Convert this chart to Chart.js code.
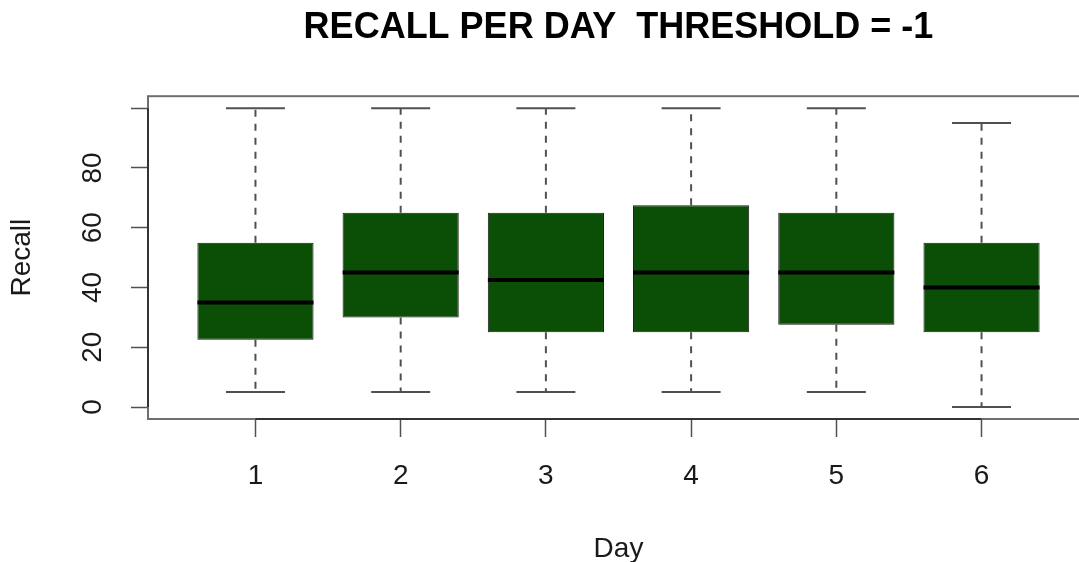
<!DOCTYPE html>
<html>
<head>
<meta charset="utf-8">
<title>Recall per day</title>
<script src="https://cdn.jsdelivr.net/npm/chart.js@4.4.1/dist/chart.umd.min.js"></script>
<style>
    html, body { margin: 0; padding: 0; background: #fff; overflow: hidden; }
    #wrap { width: 1089px; height: 562px; position: relative; }
</style>
</head>
<body>
<div id="wrap"><canvas id="recallBoxplot"></canvas></div>
<script>
// values
const days = [1, 2, 3, 4, 5, 6];
const whiskerLow = [5, 5, 5, 5, 5, 0];
const q1 = [22.5, 30, 25, 25, 27.5, 25];
const medians = [35, 45, 42.5, 45, 45, 40];
const q3 = [55, 65, 65, 67.5, 65, 55];
const whiskerHigh = [100, 100, 100, 100, 100, 95];
const yTicks = [0, 20, 40, 60, 80, 100];

const boxGreen = '#0b4e05';
const lineGrey = '#505050';
const fontFamily = '"Liberation Sans", Arial, Helvetica, sans-serif';

// dashed whiskers: one segment per box end, broken with null points
const whiskerPoints = [];
days.forEach((d, i) => {
    whiskerPoints.push({ x: d, y: q3[i] }, { x: d, y: whiskerHigh[i] }, { x: d, y: null });
    whiskerPoints.push({ x: d, y: q1[i] }, { x: d, y: whiskerLow[i] }, { x: d, y: null });
});

const capPoints = [];
days.forEach((d, i) => {
    capPoints.push({ x: d, y: whiskerLow[i] }, { x: d, y: whiskerHigh[i] });
});

// frame round the plot, plus the axis lines over the tick range (like R)
const framePlugin = {
    id: 'frame',
    afterDraw(chart) {
        const { ctx, chartArea: a, scales } = chart;
        ctx.save();
        ctx.strokeStyle = '#6e6e6e';
        ctx.lineWidth = 2;
        ctx.strokeRect(a.left, a.top, a.right - a.left, a.bottom - a.top);
        ctx.strokeStyle = '#333';
        ctx.lineWidth = 2;
        ctx.beginPath();
        ctx.moveTo(scales.x.getPixelForValue(days[0]), a.bottom);
        ctx.lineTo(scales.x.getPixelForValue(days[days.length - 1]), a.bottom);
        ctx.moveTo(a.left, scales.y.getPixelForValue(yTicks[0]));
        ctx.lineTo(a.left, scales.y.getPixelForValue(yTicks[yTicks.length - 1]));
        ctx.stroke();
        ctx.restore();
    }
};

const ctx = document.getElementById('recallBoxplot').getContext('2d');
new Chart(ctx, {
    type: 'bar',
    data: {
        datasets: [
            {
                type: 'scatter',
                label: 'Median',
                data: days.map((d, i) => ({ x: d, y: medians[i] })),
                pointStyle: 'line',
                pointRadius: 58,
                pointBorderWidth: 4,
                pointBorderColor: '#000',
                order: 0
            },
            {
                type: 'scatter',
                label: 'Whisker caps',
                data: capPoints,
                pointStyle: 'line',
                pointRadius: 29.5,
                pointBorderWidth: 2,
                pointBorderColor: lineGrey,
                clip: false,
                order: 1
            },
            {
                type: 'bar',
                label: 'IQR',
                data: days.map((d, i) => ({ x: d, y: [q1[i], q3[i]] })),
                backgroundColor: boxGreen,
                borderColor: '#1c1c1c',
                borderWidth: 1,
                borderSkipped: false,
                barPercentage: 0.8,
                categoryPercentage: 1,
                order: 2
            },
            {
                type: 'line',
                label: 'Whiskers',
                data: whiskerPoints,
                borderColor: lineGrey,
                borderWidth: 2,
                borderDash: [7, 7],
                pointRadius: 0,
                spanGaps: false,
                fill: false,
                order: 3
            }
        ]
    },
    options: {
        responsive: true,
        maintainAspectRatio: false,
        animation: false,
        events: [],
        layout: { padding: 0, autoPadding: false },
        scales: {
            x: {
                type: 'linear',
                position: 'bottom',
                min: 0.26,
                max: 6.74,
                offset: false,
                afterBuildTicks: (scale) => { scale.ticks = days.map(v => ({ value: v })); },
                afterFit: (scale) => { scale.height = 143; },
                grid: {
                    offset: false,
                    drawOnChartArea: false,
                    drawTicks: true,
                    tickLength: 18,
                    tickColor: lineGrey,
                    tickWidth: 1.5
                },
                border: { display: false },
                ticks: {
                    padding: 22,
                    color: '#1a1a1a',
                    font: { family: fontFamily, size: 28 }
                },
                title: {
                    display: true,
                    text: 'Day',
                    color: '#1a1a1a',
                    font: { family: fontFamily, size: 28 },
                    padding: { top: 0, bottom: -4 }
                }
            },
            y: {
                type: 'linear',
                position: 'left',
                min: -4,
                max: 104,
                afterBuildTicks: (scale) => { scale.ticks = yTicks.map(v => ({ value: v })); },
                afterFit: (scale) => { scale.width = 148; },
                grid: {
                    drawOnChartArea: false,
                    drawTicks: true,
                    tickLength: 17,
                    tickColor: lineGrey,
                    tickWidth: 1.5
                },
                border: { display: false },
                ticks: {
                    minRotation: 90,
                    maxRotation: 90,
                    crossAlign: 'center',
                    padding: 22,
                    color: '#1a1a1a',
                    font: { family: fontFamily, size: 28 },
                    callback: (value) => value === 100 ? '' : value
                },
                title: {
                    display: true,
                    text: 'Recall',
                    color: '#1a1a1a',
                    font: { family: fontFamily, size: 28 },
                    padding: { top: 5, bottom: 0 }
                }
            }
        },
        plugins: {
            legend: { display: false },
            tooltip: { enabled: false },
            title: {
                display: true,
                fullSize: false,
                text: 'RECALL PER DAY  THRESHOLD = -1',
                color: '#000',
                font: { family: fontFamily, size: 36, weight: 'bold' },
                padding: { top: 6, bottom: 47 }
            }
        }
    },
    plugins: [framePlugin]
});
</script>
</body>
</html>
